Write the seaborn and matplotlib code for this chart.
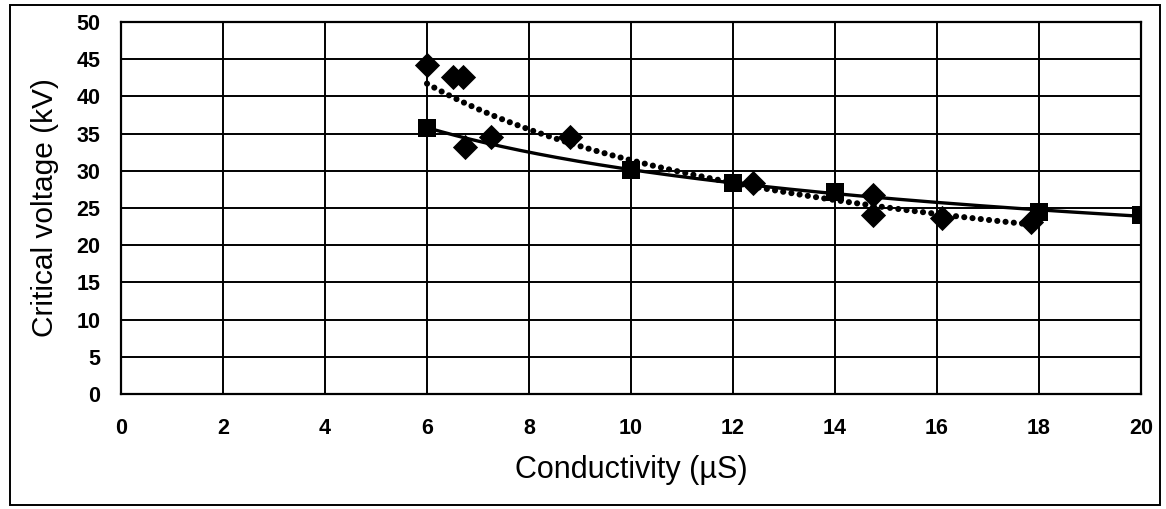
import numpy as np
import pandas as pd
import matplotlib
matplotlib.use("Agg")
import matplotlib.pyplot as plt
from matplotlib.patches import Rectangle
import seaborn as sns

# Measured critical voltage vs. conductivity
diamond_x = [6.0, 6.5, 6.7, 6.75, 7.25, 8.8, 12.4, 14.75, 14.75, 16.1, 17.85]
diamond_y = [44.2, 42.6, 42.6, 33.2, 34.6, 34.6, 28.4, 26.7, 24.1, 23.6, 23.1]

square_x = [6, 10, 12, 14, 18, 20]
square_y = [35.8, 30.1, 28.3, 27.2, 24.5, 24.0]

x_ticks = [0, 2, 4, 6, 8, 10, 12, 14, 16, 18, 20]
y_ticks = [0, 5, 10, 15, 20, 25, 30, 35, 40, 45, 50]
x_label = "Conductivity (\u00b5S)"
y_label = "Critical voltage (kV)"


def power_trend(x, y, n=200):
    """Least-squares power-law fit y = a * x**b, evaluated over the data range."""
    x = np.asarray(x, float)
    y = np.asarray(y, float)
    b, ln_a = np.polyfit(np.log(x), np.log(y), 1)
    xs = np.linspace(x.min(), x.max(), n)
    return pd.DataFrame({"x": xs, "y": np.exp(ln_a) * xs ** b})


sns.set_theme(style="white")
plt.rcParams["font.family"] = ["Liberation Sans", "DejaVu Sans"]

fig, ax = plt.subplots(figsize=(11.66, 5.09), dpi=100)
fig.subplots_adjust(left=121 / 1166, right=1141 / 1166,
                    top=1 - 22 / 509, bottom=1 - 394 / 509)

df_d = pd.DataFrame({"x": diamond_x, "y": diamond_y})
df_s = pd.DataFrame({"x": square_x, "y": square_y})

# trend lines
tr_d = power_trend(diamond_x, diamond_y)
tr_s = power_trend(square_x, square_y)
sns.lineplot(data=tr_s, x="x", y="y", ax=ax, color="black", linewidth=2.4,
             zorder=3)
ln = sns.lineplot(data=tr_d, x="x", y="y", ax=ax, color="black",
                  linewidth=4.4, zorder=3)
dotted = ln.lines[-1]
dotted.set_linestyle((0, (0.01, 1.35)))
dotted.set_dash_capstyle("round")

# data markers
sns.scatterplot(data=df_d, x="x", y="y", ax=ax, marker="D", s=165,
                color="black", edgecolor="black", linewidth=0, zorder=4)
sns.scatterplot(data=df_s, x="x", y="y", ax=ax, marker="s", s=175,
                color="black", edgecolor="black", linewidth=0, zorder=4)

ax.set_xlim(0, 20)
ax.set_ylim(0, 50)
ax.set_xticks(x_ticks)
ax.set_yticks(y_ticks)
ax.set_xticklabels([str(v) for v in x_ticks], fontsize=15.5, fontweight="bold")
ax.set_yticklabels([str(v) for v in y_ticks], fontsize=15.5, fontweight="bold")
ax.tick_params(axis="both", direction="out", length=6, width=1.4,
               color="black", labelcolor="black")
ax.tick_params(axis="y", pad=9)
ax.tick_params(axis="x", pad=11)

ax.grid(True, color="black", linewidth=1.4)
ax.set_axisbelow(True)
for sp in ax.spines.values():
    sp.set_color("black")
    sp.set_linewidth(1.6)

ax.set_xlabel(x_label, fontsize=22, color="black", labelpad=12)
ax.set_ylabel(y_label, fontsize=21.5, color="black", labelpad=12)

# chart frame
fig.patches.append(Rectangle((10 / 1166, 4 / 509), 1150 / 1166, 500 / 509,
                             transform=fig.transFigure, fill=False,
                             edgecolor="black", linewidth=1.4))

fig.savefig("out.png", dpi=100, facecolor="white")
